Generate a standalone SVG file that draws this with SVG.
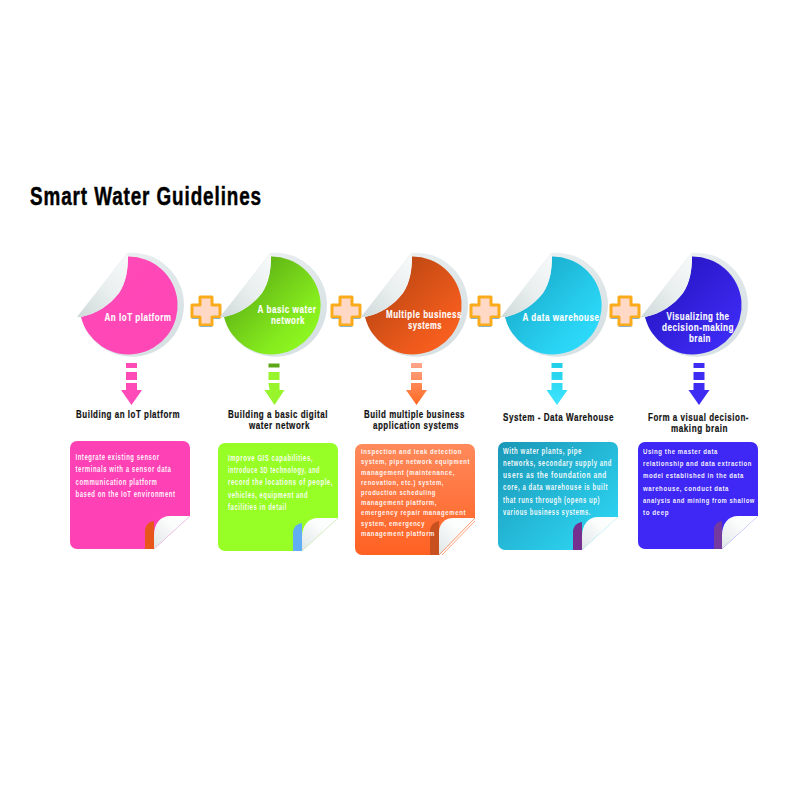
<svg xmlns="http://www.w3.org/2000/svg" width="800" height="800" viewBox="0 0 800 800">
<style>
text{font-family:"Liberation Sans",Arial,sans-serif;font-weight:700}
.title{font-size:25px;fill:#000;stroke:#000;stroke-width:.45px;letter-spacing:1.2px}
.head{font-size:10.5px;fill:#111;stroke:#111;stroke-width:.2px;letter-spacing:.7px}
.lab{font-size:11px;fill:#fff;text-anchor:middle;stroke:#fff;stroke-width:.15px;letter-spacing:.7px}
.body{font-size:8.4px;fill:#fff;fill-opacity:.94;letter-spacing:.75px}
#node-3 .body{font-size:7.8px}
#node-5 .body{font-size:8px}
</style>
<defs>
<linearGradient id="rim" x1="0" y1="0" x2="1" y2="1"><stop offset="0" stop-color="#f2f5f5"/><stop offset="1" stop-color="#d2dde1"/></linearGradient>
<linearGradient id="flap" x1="0" y1="1" x2="1" y2="0"><stop offset="0" stop-color="#cfd9d9"/><stop offset=".5" stop-color="#e9eeee"/><stop offset="1" stop-color="#f8fafa"/></linearGradient>
<linearGradient id="cornerFold" x1="0" y1="1" x2="1" y2="0"><stop offset="0" stop-color="#dfe6e6"/><stop offset=".6" stop-color="#fbfcfc"/><stop offset="1" stop-color="#fff"/></linearGradient>
<linearGradient id="c1" x1="0" y1="0" x2="1" y2="1"><stop offset="0" stop-color="#ff4bb8"/><stop offset="1" stop-color="#ff45b5"/></linearGradient>
<linearGradient id="c2" x1="0" y1="0" x2="1" y2="1"><stop offset="0" stop-color="#4f9a10"/><stop offset=".7" stop-color="#86ec1e"/><stop offset="1" stop-color="#94ff22"/></linearGradient>
<linearGradient id="c3" x1="0" y1="0" x2="1" y2="1"><stop offset="0" stop-color="#a8400e"/><stop offset=".7" stop-color="#ee5a1c"/><stop offset="1" stop-color="#ff6420"/></linearGradient>
<linearGradient id="c4" x1="0" y1="0" x2="1" y2="1"><stop offset="0" stop-color="#159fc0"/><stop offset=".7" stop-color="#29d2f2"/><stop offset="1" stop-color="#30e0ff"/></linearGradient>
<linearGradient id="c5" x1="0" y1="0" x2="1" y2="1"><stop offset="0" stop-color="#1f10b8"/><stop offset=".7" stop-color="#3a26ea"/><stop offset="1" stop-color="#4030ff"/></linearGradient>
<linearGradient id="card3" x1="0" y1="0" x2="0" y2="1"><stop offset="0" stop-color="#ff8a5c"/><stop offset="1" stop-color="#ff6122"/></linearGradient>
<linearGradient id="card4" x1="0" y1="0" x2="1" y2="1"><stop offset="0" stop-color="#1b97b6"/><stop offset="1" stop-color="#2fdcfa"/></linearGradient>
<linearGradient id="a3" x1="0" y1="0" x2="0" y2="1"><stop offset="0" stop-color="#ffa58a"/><stop offset="1" stop-color="#ff6a20"/></linearGradient>
<linearGradient id="a4" x1="0" y1="0" x2="0" y2="1"><stop offset="0" stop-color="#20d0e8"/><stop offset="1" stop-color="#40e4ff"/></linearGradient>
<g id="plus"><path d="M-6-14H6V-6H14V6H6V14H-6V6H-14V-6H-6Z" fill="#ffd9c6" stroke="#f9ab1c" stroke-width="3" stroke-linejoin="round"/><path d="M-14 7.500H-7M7 7.500H14M-6 15.500H6" stroke="#8fb2c4" stroke-width="1" fill="none"/></g>
<path id="rimShape" d="M-55 12L-5-52A52 52 0 1 1-50.600 12Z" fill="url(#rim)"/>
<path id="disc" d="M-4-48.500A49 49 0 1 1-51 12C-36 9-22 0-13-12-6-22-4-36-4-48.500Z"/>
<path id="flapShape" d="M-55 12L-5-51-4-48.500C-4-36-6-22-13-12-22 0-36 9-51 12Z" fill="url(#flap)"/>
<path id="arrowDash" d="M-5.500 0H5.500V5H-5.500ZM-5.500 9H5.500V17H-5.500ZM-5.500 20H5.500V27H10.500L0 42-10.500 27H-5.500Z"/>
<path id="foldShape" d="M0 33V19C0 8 6 0 16 0H36Z" fill="url(#cornerFold)"/>
</defs>

<text class="title" x="30" y="205" textLength="232" lengthAdjust="spacingAndGlyphs">Smart Water Guidelines</text>

<g id="connectors">
<use href="#plus" x="206" y="311"/>
<use href="#plus" x="346" y="311"/>
<use href="#plus" x="485" y="311"/>
<use href="#plus" x="625" y="311"/>
<use href="#arrowDash" x="131.500" y="363" fill="#ff4bb8"/>
<path d="M268.500 363.500h11v4h-11z" fill="#5da615"/><path d="M268.500 372h11v8h-11zM268.500 383h11v7h5l-10 15-10-15h5z" fill="#98f52c"/>
<use href="#arrowDash" x="416.500" y="363" fill="url(#a3)"/>
<use href="#arrowDash" x="557" y="363" fill="url(#a4)"/>
<use href="#arrowDash" x="699" y="363" fill="#3f2cf2"/>
</g>

<g id="node-1">
<g transform="translate(132 305)"><use href="#rimShape"/><use href="#disc" fill="url(#c1)"/><use href="#flapShape"/></g>
<text class="lab" x="138" y="321" textLength="67" lengthAdjust="spacingAndGlyphs">An IoT platform</text>
<text class="head" x="76" y="418" textLength="104" lengthAdjust="spacingAndGlyphs">Building an IoT platform</text>
<path d="M77 441H183a7 7 0 0 1 7 7V516L154 549H77a7 7 0 0 1-7-7V448a7 7 0 0 1 7-7Z" fill="#ff41b6"/>
<path d="M154 521C148 522 145 526 145 531V549H154Z" fill="#e9561c"/>
<use href="#foldShape" x="154" y="516"/>
<path d="M154 549L190 516" stroke="#e7c6ea" stroke-width=".8" fill="none"/>
<text class="body" x="75.500" y="460" textLength="84" lengthAdjust="spacingAndGlyphs">Integrate existing sensor</text>
<text class="body" x="75.500" y="472" textLength="96" lengthAdjust="spacingAndGlyphs">terminals with a sensor data</text>
<text class="body" x="75.500" y="484.500" textLength="82" lengthAdjust="spacingAndGlyphs">communication platform</text>
<text class="body" x="75.500" y="497" textLength="100" lengthAdjust="spacingAndGlyphs">based on the IoT environment</text>
</g>

<g id="node-2">
<g transform="translate(275 305)"><use href="#rimShape"/><use href="#disc" fill="url(#c2)"/><use href="#flapShape"/></g>
<text class="lab" x="287" y="313" textLength="59" lengthAdjust="spacingAndGlyphs">A basic water</text>
<text class="lab" x="288" y="323.500" textLength="34" lengthAdjust="spacingAndGlyphs">network</text>
<text class="head" x="228" y="418" textLength="100" lengthAdjust="spacingAndGlyphs">Building a basic digital</text>
<text class="head" x="249" y="428.500" textLength="61" lengthAdjust="spacingAndGlyphs">water network</text>
<path d="M225 443H331a7 7 0 0 1 7 7V518L302 551H225a7 7 0 0 1-7-7V450a7 7 0 0 1 7-7Z" fill="#98ff26"/>
<path d="M302 523C296 524 293 528 293 533V551H302Z" fill="#62aef5"/>
<use href="#foldShape" x="302" y="518"/>
<path d="M302 551L338 518" stroke="#d6e9c8" stroke-width=".8" fill="none"/>
<text class="body" x="228" y="461" textLength="85" lengthAdjust="spacingAndGlyphs">Improve GIS capabilities,</text>
<text class="body" x="228" y="473" textLength="92" lengthAdjust="spacingAndGlyphs">introduce 3D technology, and</text>
<text class="body" x="228" y="485" textLength="105" lengthAdjust="spacingAndGlyphs">record the locations of people,</text>
<text class="body" x="228" y="497.500" textLength="80" lengthAdjust="spacingAndGlyphs">vehicles, equipment and</text>
<text class="body" x="228" y="509.500" textLength="59" lengthAdjust="spacingAndGlyphs">facilities in detail</text>
</g>

<g id="node-3">
<g transform="translate(416 305)"><use href="#rimShape"/><use href="#disc" fill="url(#c3)"/><use href="#flapShape"/></g>
<text class="lab" x="424" y="318" textLength="76" lengthAdjust="spacingAndGlyphs">Multiple business</text>
<text class="lab" x="425" y="329" textLength="34" lengthAdjust="spacingAndGlyphs">systems</text>
<text class="head" x="364" y="418" textLength="101" lengthAdjust="spacingAndGlyphs">Build multiple business</text>
<text class="head" x="373" y="429" textLength="86" lengthAdjust="spacingAndGlyphs">application systems</text>
<path d="M362 444H468a7 7 0 0 1 7 7V518L439 555H362a7 7 0 0 1-7-7V451a7 7 0 0 1 7-7Z" fill="url(#card3)"/>
<path d="M439 521C434 522 430 526 430 531V555H439Z" fill="#c9501f"/>
<path d="M439 555V532C439 524 445 518 453 518H475Z" fill="url(#cornerFold)"/>
<path d="M439 555L475 518M442 555L475 521" stroke="#ff8a5c" stroke-width=".8" fill="none"/>
<text class="body" x="361" y="454" textLength="101" lengthAdjust="spacingAndGlyphs">Inspection and leak detection</text>
<text class="body" x="361" y="464" textLength="109" lengthAdjust="spacingAndGlyphs">system, pipe network equipment</text>
<text class="body" x="361" y="474.500" textLength="94" lengthAdjust="spacingAndGlyphs">management (maintenance,</text>
<text class="body" x="361" y="484.500" textLength="83" lengthAdjust="spacingAndGlyphs">renovation, etc.) system,</text>
<text class="body" x="361" y="494.500" textLength="75" lengthAdjust="spacingAndGlyphs">production scheduling</text>
<text class="body" x="361" y="505" textLength="76" lengthAdjust="spacingAndGlyphs">management platform,</text>
<text class="body" x="361" y="515" textLength="105" lengthAdjust="spacingAndGlyphs">emergency repair management</text>
<text class="body" x="361" y="525.500" textLength="64" lengthAdjust="spacingAndGlyphs">system, emergency</text>
<text class="body" x="361" y="535.500" textLength="74" lengthAdjust="spacingAndGlyphs">management platform</text>
</g>

<g id="node-4">
<g transform="translate(556 305)"><use href="#rimShape"/><use href="#disc" fill="url(#c4)"/><use href="#flapShape"/></g>
<text class="lab" x="561" y="321" textLength="77" lengthAdjust="spacingAndGlyphs">A data warehouse</text>
<text class="head" x="503" y="421" textLength="111" lengthAdjust="spacingAndGlyphs">System - Data Warehouse</text>
<path d="M505 442H611a7 7 0 0 1 7 7V517L582 550H505a7 7 0 0 1-7-7V449a7 7 0 0 1 7-7Z" fill="url(#card4)"/>
<path d="M582 522C576 523 573 527 573 532V550H582Z" fill="#75308f"/>
<use href="#foldShape" x="582" y="517"/>
<text class="body" x="503" y="454" textLength="79" lengthAdjust="spacingAndGlyphs">With water plants, pipe</text>
<text class="body" x="503" y="466" textLength="109" lengthAdjust="spacingAndGlyphs">networks, secondary supply and</text>
<text class="body" x="503" y="478" textLength="104" lengthAdjust="spacingAndGlyphs">users as the foundation and</text>
<text class="body" x="503" y="490" textLength="105" lengthAdjust="spacingAndGlyphs">core, a data warehouse is built</text>
<text class="body" x="503" y="502.500" textLength="97" lengthAdjust="spacingAndGlyphs">that runs through (opens up)</text>
<text class="body" x="503" y="515" textLength="88" lengthAdjust="spacingAndGlyphs">various business systems.</text>
</g>

<g id="node-5">
<g transform="translate(696 305)"><use href="#rimShape"/><use href="#disc" fill="url(#c5)"/><use href="#flapShape"/></g>
<text class="lab" x="698" y="320" textLength="63" lengthAdjust="spacingAndGlyphs">Visualizing the</text>
<text class="lab" x="698" y="331" textLength="72" lengthAdjust="spacingAndGlyphs">decision-making</text>
<text class="lab" x="700" y="342" textLength="22" lengthAdjust="spacingAndGlyphs">brain</text>
<text class="head" x="648" y="421" textLength="101" lengthAdjust="spacingAndGlyphs">Form a visual decision-</text>
<text class="head" x="671" y="432" textLength="57" lengthAdjust="spacingAndGlyphs">making brain</text>
<path d="M645 442H751a7 7 0 0 1 7 7V516L722 549H645a7 7 0 0 1-7-7V449a7 7 0 0 1 7-7Z" fill="#3f27f5"/>
<path d="M722 521C716 522 714 526 714 531V549H722Z" fill="#743a9f"/>
<use href="#foldShape" x="722" y="516"/>
<text class="body" x="643" y="454" textLength="75" lengthAdjust="spacingAndGlyphs">Using the master data</text>
<text class="body" x="643" y="466" textLength="109" lengthAdjust="spacingAndGlyphs">relationship and data extraction</text>
<text class="body" x="643" y="478" textLength="101" lengthAdjust="spacingAndGlyphs">model established in the data</text>
<text class="body" x="643" y="490.500" textLength="86" lengthAdjust="spacingAndGlyphs">warehouse, conduct data</text>
<text class="body" x="643" y="503" textLength="112" lengthAdjust="spacingAndGlyphs">analysis and mining from shallow</text>
<text class="body" x="643" y="515" textLength="26" lengthAdjust="spacingAndGlyphs">to deep</text>
</g>
</svg>
